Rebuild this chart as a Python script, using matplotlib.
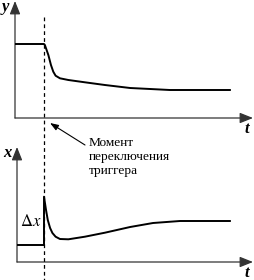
import matplotlib
matplotlib.use("Agg")
import matplotlib.pyplot as plt
import matplotlib.transforms as mtransforms
from matplotlib.lines import Line2D
from matplotlib.patches import FancyArrowPatch

plt.rcParams["mathtext.fontset"] = "stix"

# ---- data ----
t_switch = 1.0
t_y = [0.0, 1.0, 1.03, 1.15, 1.24, 1.32, 1.40, 1.55, 1.84, 2.41, 3.10, 3.97, 4.66, 5.34, 7.41]
y_vals = [7.4, 7.4, 7.3, 6.3, 5.3, 4.63, 4.23, 3.97, 3.8, 3.57, 3.3, 3.0, 2.9, 2.8, 2.8]

t_x = [0.07, 1.0, 1.0, 1.07, 1.13, 1.21, 1.29, 1.40, 1.55, 1.84, 2.41, 3.10, 3.97, 4.76, 5.69, 7.41]
x_vals = [1.7, 1.7, 6.53, 5.2, 4.2, 3.4, 2.9, 2.53, 2.3, 2.27, 2.53, 2.93, 3.5, 3.9, 4.1, 4.1]

label_y = "y"
label_x = "x"
label_t = "t"
label_dx = r"$\Delta x$"
note_text = "Момент\nпереключения\nтриггера"

W, H = 254, 280
fig = plt.figure(figsize=(W / 100, H / 100), dpi=100)
fig.patch.set_facecolor("white")

serif = ["Liberation Serif", "DejaVu Serif"]


def px_axes(left, right, bottom, top):
    return fig.add_axes([left / W, 1 - bottom / H, (right - left) / W, (bottom - top) / H])


ax_top = px_axes(15, 253, 118, 1)
ax_bot = px_axes(17, 253, 262, 147)

ax_top.set_xlim(0, 238 / 29)
ax_top.set_ylim(0, 11.7)
ax_bot.set_xlim(2 / 29, 238 / 29)
ax_bot.set_ylim(0, 11.5)

for ax in (ax_top, ax_bot):
    ax.patch.set_visible(False)
    for s in ("top", "right", "left", "bottom"):
        ax.spines[s].set_visible(False)
    ax.set_xticks([])
    ax.set_yticks([])
    for end in ((1, 0), (0, 1)):
        ax.add_patch(FancyArrowPatch((0, 0), end, transform=ax.transAxes,
                                     arrowstyle="-|>,head_length=8,head_width=3.2",
                                     mutation_scale=1, color="#333333",
                                     linewidth=0.9, shrinkA=0, shrinkB=0,
                                     clip_on=False))

ax_top.plot(t_y, y_vals, color="black", linewidth=1.4, solid_joinstyle="round")
ax_bot.plot(t_x, x_vals, color="black", linewidth=1.4, solid_joinstyle="round")

# dashed switching line spanning both panels
trans = mtransforms.blended_transform_factory(ax_top.transData, fig.transFigure)
fig.add_artist(Line2D([t_switch, t_switch], [1 - 17 / H, 0], transform=trans,
                      color="black", linewidth=0.9, linestyle=(0, (3, 2.5))))

# axis labels
lab = dict(family=serif, style="italic", weight="bold", fontsize=12,
           ha="center", va="center")
fig.text(5 / W, 1 - 7 / H, label_y, **lab)
fig.text(247 / W, 1 - 129 / H, label_t, **lab)
fig.text(7 / W, 1 - 153 / H, label_x, **lab)
fig.text(247 / W, 1 - 273 / H, label_t, **lab)
fig.text(31 / W, 1 - 221 / H, label_dx, fontsize=12, ha="center", va="center")

fig.text(89 / W, 1 - 157 / H, note_text, family=serif, fontsize=9.6,
         ha="left", va="center", linespacing=1.25)
fig.add_artist(FancyArrowPatch(
    (85 / W, 1 - 145 / H), (50 / W, 1 - 123 / H), transform=fig.transFigure,
    arrowstyle="-|>,head_length=5,head_width=1.8", color="black", linewidth=0.8,
    mutation_scale=1, shrinkA=0, shrinkB=0))

fig.savefig("out.png", dpi=100)
